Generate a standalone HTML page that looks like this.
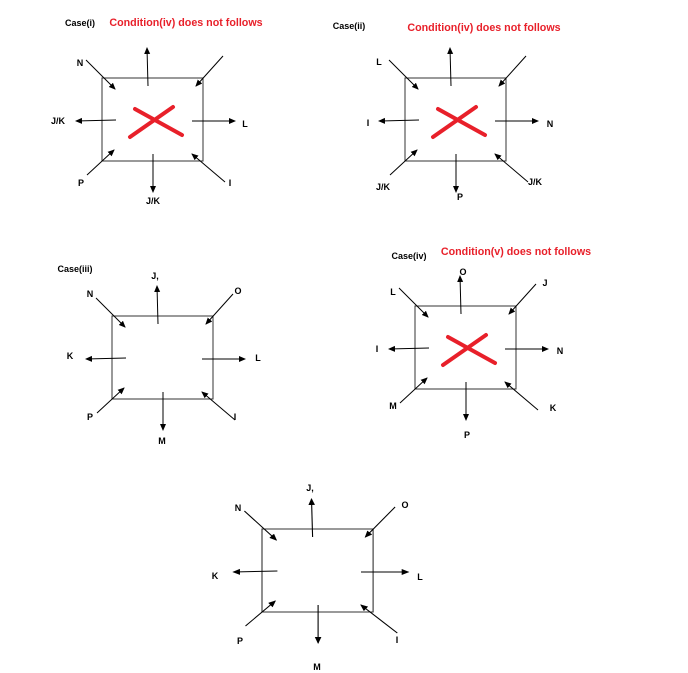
<!DOCTYPE html>
<html><head><meta charset="utf-8"><style>
html,body{margin:0;padding:0;background:#fff;width:688px;height:673px;overflow:hidden}
svg{display:block}
text{font-family:"Liberation Sans",sans-serif;font-weight:bold;font-size:9px;fill:#000}
text.r{fill:#e8202a;font-size:10.7px}
</style></head><body>
<svg width="688" height="673" viewBox="0 0 688 673">
<defs>
<marker id="a" markerWidth="8" markerHeight="8" refX="6" refY="3" orient="auto" markerUnits="userSpaceOnUse"><path d="M0,0 L7,3 L0,6 Z" fill="#000"/></marker>
<g id="d" stroke="#000" stroke-width="1" fill="none">
<rect x="0" y="0" width="101" height="83" stroke="#333"/>
<line x1="-16" y1="-18" x2="13" y2="11" marker-end="url(#a)"/>
<line x1="46" y1="8" x2="45" y2="-30" marker-end="url(#a)"/>
<line x1="121" y1="-22" x2="94" y2="8" marker-end="url(#a)"/>
<line x1="14" y1="42" x2="-26" y2="43" marker-end="url(#a)"/>
<line x1="90" y1="43" x2="133" y2="43" marker-end="url(#a)"/>
<line x1="-15" y1="97" x2="12" y2="72" marker-end="url(#a)"/>
<line x1="51" y1="76" x2="51" y2="114" marker-end="url(#a)"/>
<line x1="123" y1="104" x2="90" y2="76" marker-end="url(#a)"/>
</g>
<g id="x" stroke="#e8202a" stroke-width="4" stroke-linecap="round">
<line x1="33" y1="31" x2="80" y2="57"/><line x1="28" y1="59" x2="71" y2="29"/>
</g>
</defs>
<use href="#d" x="102" y="78"/><use href="#x" x="102" y="78"/>
<use href="#d" x="405" y="78"/><use href="#x" x="405" y="78"/>
<use href="#d" x="112" y="316"/>
<use href="#d" x="415" y="306"/><use href="#x" x="415" y="306"/>
<g transform="translate(262,529) scale(1.1,1)"><use href="#d"/></g>

<g text-anchor="middle">
<text x="80" y="26">Case(i)</text><text class="r" x="186" y="26">Condition(iv) does not follows</text>
<text x="80" y="66">N</text><text x="58" y="124">J/K</text><text x="245" y="127">L</text>
<text x="81" y="186">P</text><text x="153" y="204">J/K</text><text x="230" y="186">I</text>

<text x="349" y="29">Case(ii)</text><text class="r" x="484" y="31">Condition(iv) does not follows</text>
<text x="379" y="65">L</text><text x="368" y="126">I</text><text x="550" y="127">N</text>
<text x="383" y="190">J/K</text><text x="460" y="200">P</text><text x="535" y="185">J/K</text>

<text x="75" y="272">Case(iii)</text>
<text x="90" y="297">N</text><text x="155" y="279">J,</text><text x="238" y="294">O</text>
<text x="70" y="359">K</text><text x="258" y="361">L</text><text x="90" y="420">P</text>
<text x="162" y="444">M</text><text x="235" y="420">I</text>

<text x="409" y="259">Case(iv)</text><text class="r" x="516" y="255">Condition(v) does not follows</text>
<text x="463" y="275">O</text><text x="393" y="295">L</text><text x="545" y="286">J</text>
<text x="377" y="352">I</text><text x="560" y="354">N</text><text x="393" y="409">M</text>
<text x="553" y="411">K</text><text x="467" y="438">P</text>

<text x="238" y="511">N</text><text x="310" y="491">J,</text><text x="405" y="508">O</text>
<text x="215" y="579">K</text><text x="420" y="580">L</text><text x="240" y="644">P</text>
<text x="317" y="670">M</text><text x="397" y="643">I</text>
</g>
</svg>
</body></html>
